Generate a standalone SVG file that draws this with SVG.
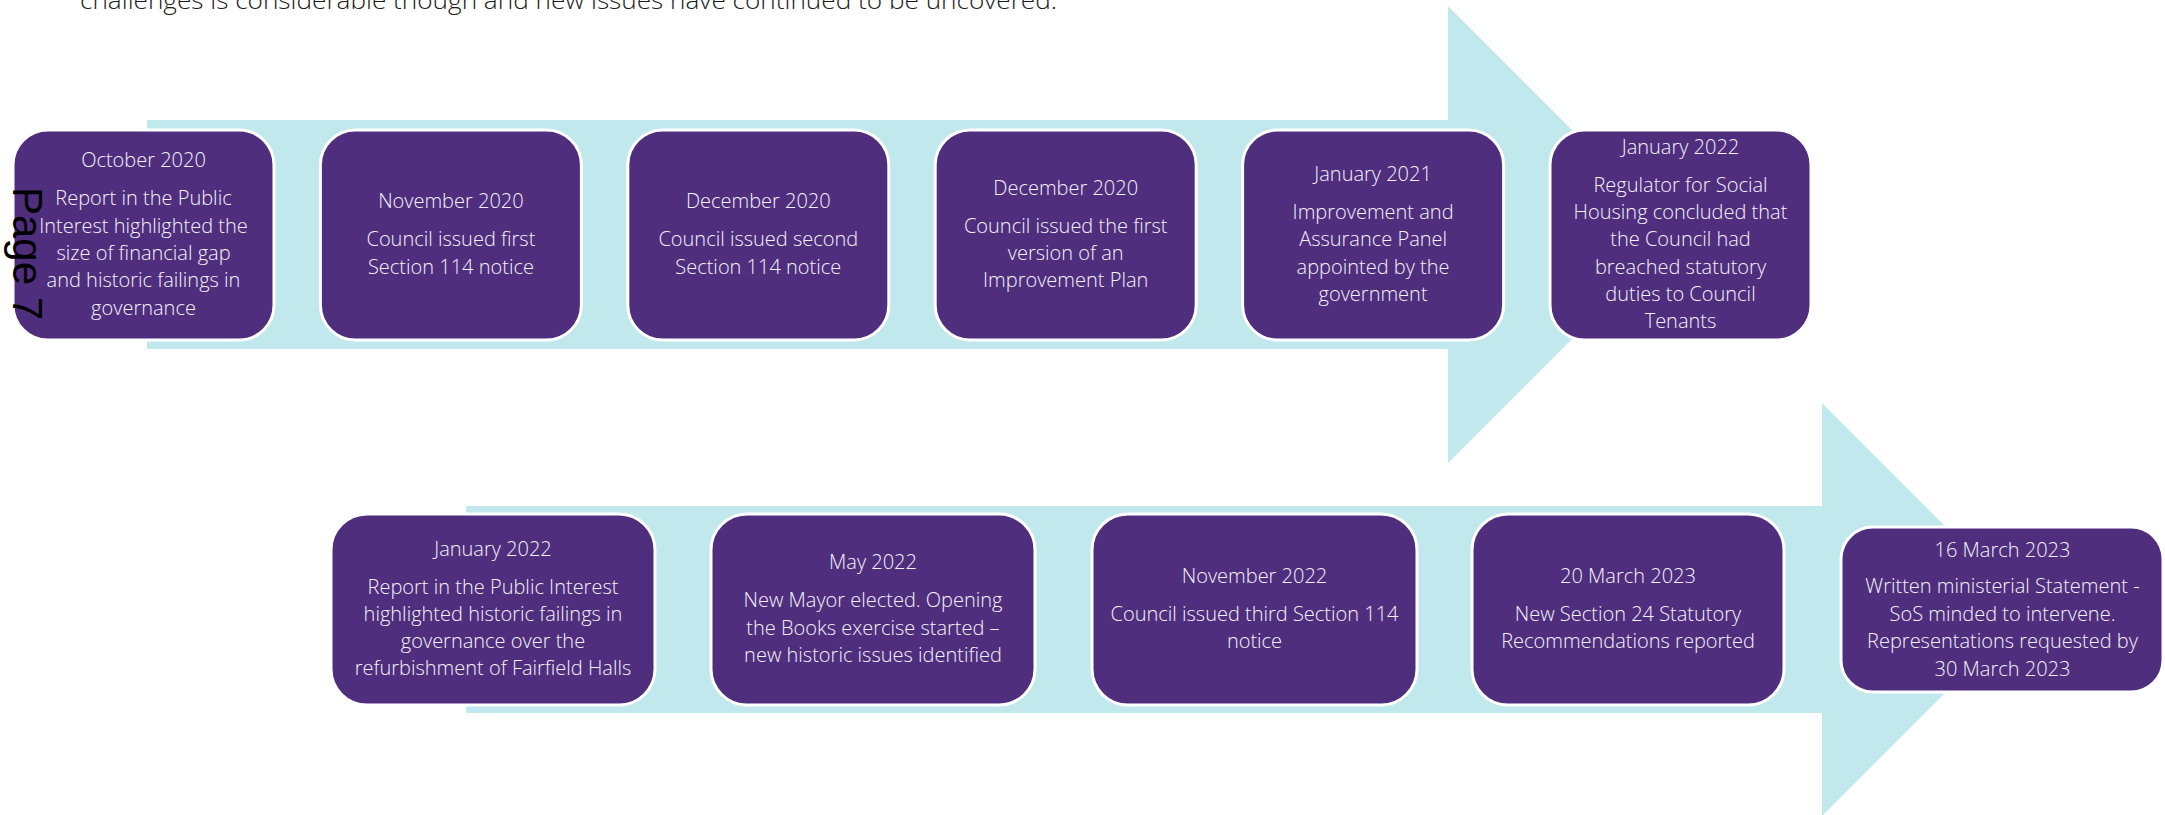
<svg xmlns="http://www.w3.org/2000/svg" width="2165" height="815" viewBox="0 0 2165 815">
<style>
.bg{fill:#ffffff}
.arrow{fill:#c1e8ec}
.box{fill:#502e7e;stroke:#ffffff;stroke-width:3}
.t{font-family:"Open Sans","Liberation Sans",sans-serif;font-size:20px;font-weight:300;fill:#f4f2f7;text-anchor:middle}
.intro{font-family:"Open Sans","Liberation Sans",sans-serif;font-size:24px;font-weight:300;fill:#1a1a1a}
.page{font-family:"Liberation Sans",Arial,sans-serif;font-size:42px;fill:#000000}
</style>
<rect class="bg" x="0" y="0" width="2165" height="815"/>
<text class="intro" x="80" y="8.5" textLength="977" lengthAdjust="spacingAndGlyphs">challenges is considerable though and new issues have continued to be uncovered.</text>
<g id="connectors">
<polygon id="arrow-top" class="arrow" points="147,120 1448,120 1448,6 1676.5,234.5 1448,463 1448,349 147,349"/>
<polygon id="arrow-bottom" class="arrow" points="466,506 1822,506 1822,403 2028.5,609.5 1822,816 1822,713 466,713"/>
</g>
<g id="node1"><rect class="box" x="13" y="130" width="261" height="210" rx="35"/>
<text class="t" x="143.5" y="167.4">October 2020<tspan x="143.5" dy="38">Report in the Public</tspan><tspan x="143.5" dy="27.3">Interest highlighted the</tspan><tspan x="143.5" dy="27.3">size of financial gap</tspan><tspan x="143.5" dy="27.3">and historic failings in</tspan><tspan x="143.5" dy="27.3">governance</tspan></text></g>
<g id="node2"><rect class="box" x="320.4" y="130" width="261" height="210" rx="35"/>
<text class="t" x="450.9" y="208.4">November 2020<tspan x="450.9" dy="38">Council issued first</tspan><tspan x="450.9" dy="27.3">Section 114 notice</tspan></text></g>
<g id="node3"><rect class="box" x="627.8" y="130" width="261" height="210" rx="35"/>
<text class="t" x="758.3" y="208.4">December 2020<tspan x="758.3" dy="38">Council issued second</tspan><tspan x="758.3" dy="27.3">Section 114 notice</tspan></text></g>
<g id="node4"><rect class="box" x="935.2" y="130" width="261" height="210" rx="35"/>
<text class="t" x="1065.7" y="194.7">December 2020<tspan x="1065.7" dy="38">Council issued the first</tspan><tspan x="1065.7" dy="27.3">version of an</tspan><tspan x="1065.7" dy="27.3">Improvement Plan</tspan></text></g>
<g id="node5"><rect class="box" x="1242.6" y="130" width="261" height="210" rx="35"/>
<text class="t" x="1373.1" y="181">January 2021<tspan x="1373.1" dy="38">Improvement and</tspan><tspan x="1373.1" dy="27.3">Assurance Panel</tspan><tspan x="1373.1" dy="27.3">appointed by the</tspan><tspan x="1373.1" dy="27.3">government</tspan></text></g>
<g id="node6"><rect class="box" x="1550" y="130" width="261" height="210" rx="35"/>
<text class="t" x="1680.5" y="153.8">January 2022<tspan x="1680.5" dy="38">Regulator for Social</tspan><tspan x="1680.5" dy="27.3">Housing concluded that</tspan><tspan x="1680.5" dy="27.3">the Council had</tspan><tspan x="1680.5" dy="27.3">breached statutory</tspan><tspan x="1680.5" dy="27.3">duties to Council</tspan><tspan x="1680.5" dy="27.3">Tenants</tspan></text></g>
<g id="node7"><rect class="box" x="331" y="514" width="324" height="191" rx="36"/>
<text class="t" x="493" y="555.5">January 2022<tspan x="493" dy="38">Report in the Public Interest</tspan><tspan x="493" dy="27.3">highlighted historic failings in</tspan><tspan x="493" dy="27.3">governance over the</tspan><tspan x="493" dy="27.3">refurbishment of Fairfield Halls</tspan></text></g>
<g id="node8"><rect class="box" x="711" y="514" width="324" height="191" rx="36"/>
<text class="t" x="873" y="569.2">May 2022<tspan x="873" dy="38">New Mayor elected. Opening</tspan><tspan x="873" dy="27.3">the Books exercise started –</tspan><tspan x="873" dy="27.3">new historic issues identified</tspan></text></g>
<g id="node9"><rect class="box" x="1092" y="514" width="325" height="191" rx="36"/>
<text class="t" x="1254.5" y="582.8">November 2022<tspan x="1254.5" dy="38">Council issued third Section 114</tspan><tspan x="1254.5" dy="27.3">notice</tspan></text></g>
<g id="node10"><rect class="box" x="1472" y="514" width="312" height="191" rx="36"/>
<text class="t" x="1628" y="582.8">20 March 2023<tspan x="1628" dy="38">New Section 24 Statutory</tspan><tspan x="1628" dy="27.3">Recommendations reported</tspan></text></g>
<g id="node11"><rect class="box" x="1841" y="527" width="322" height="165" rx="32"/>
<text class="t" x="2002.5" y="556.5">16 March 2023<tspan x="2002.5" dy="36.5">Written ministerial Statement -</tspan><tspan x="2002.5" dy="27.5">SoS minded to intervene.</tspan><tspan x="2002.5" dy="27.5">Representations requested by</tspan><tspan x="2002.5" dy="27.5">30 March 2023</tspan></text></g>
<text class="page" transform="translate(13,187) rotate(90)">Page 7</text>
</svg>
